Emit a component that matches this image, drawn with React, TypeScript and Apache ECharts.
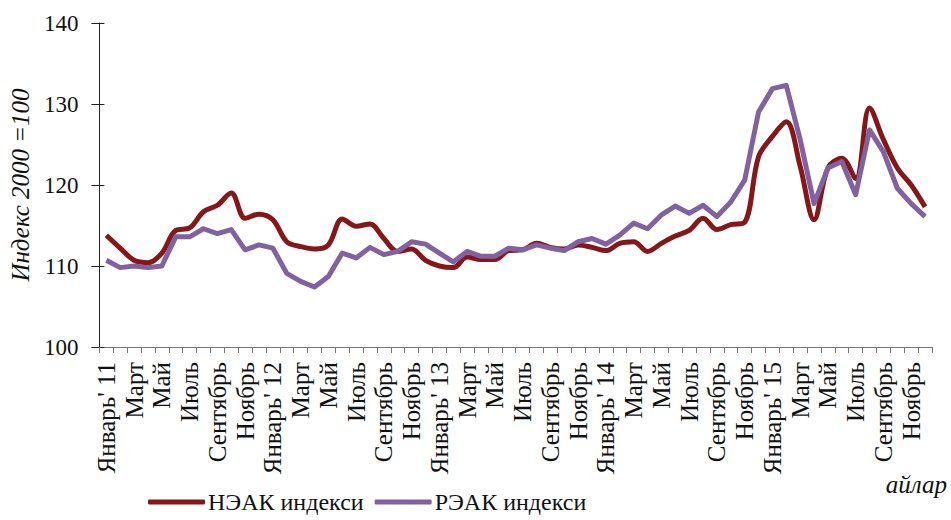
import React, { useEffect, useRef } from "react";
import * as echarts from "echarts";

const monthNames = ["Январь", "Февраль", "Март", "Апрель", "Май", "Июнь", "Июль", "Август", "Сентябрь", "Октябрь", "Ноябрь", "Декабрь"];
const years = ["11", "12", "13", "14", "15"];
const categories: string[] = [];
years.forEach((y) => monthNames.forEach((m, i) => categories.push(i === 0 ? `${m}' ${y}` : m)));

const neak = [
  113.8, 112.2, 110.7, 110.4, 111.6, 114.4, 114.7, 116.7, 117.5, 119.0, 115.9, 116.4,
  115.7, 113.0, 112.4, 112.1, 112.6, 115.8, 114.9, 115.2, 113.4, 111.8, 112.1, 110.7,
  110.0, 109.8, 111.1, 110.8, 110.8, 111.9, 112.0, 112.8, 112.3, 112.1, 112.6, 112.3,
  111.9, 112.8, 113.0, 111.8, 112.8, 113.7, 114.4, 115.9, 114.5, 115.1, 115.4, 123.5,
  126.0, 127.8, 122.3, 115.7, 122.1, 123.3, 120.8, 129.5, 125.6, 122.1, 120.0, 117.3,
];
const reak = [
  110.7, 109.8, 110.0, 109.8, 110.0, 113.6, 113.6, 114.6, 114.0, 114.5, 112.0, 112.6,
  112.2, 109.1, 108.1, 107.4, 108.7, 111.6, 111.0, 112.3, 111.4, 111.8, 113.0, 112.7,
  111.6, 110.5, 111.8, 111.2, 111.2, 112.2, 112.0, 112.6, 112.2, 111.9, 113.0, 113.4,
  112.7, 113.8, 115.3, 114.6, 116.3, 117.4, 116.5, 117.5, 116.1, 117.9, 120.6, 129.0,
  131.9, 132.3, 125.6, 117.7, 122.1, 122.9, 118.8, 126.8, 124.1, 119.6, 117.7, 116.1,
];

const seriesNames = ["НЭАК индекси", "РЭАК индекси"];
const yAxisName = "Индекс 2000 =100";
const xAxisName = "айлар";

const FONT = "Liberation Serif";
const RED = "#861719";
const PURPLE = "#8062a0";

export default function App() {
  const ref = useRef<HTMLDivElement>(null);
  useEffect(() => {
    if (!ref.current) return;
    const chart = echarts.init(ref.current, undefined, { renderer: "svg" });
    chart.setOption({
      animation: false,
      backgroundColor: "#fff",
      textStyle: { fontFamily: FONT },
      grid: { left: 95, right: 19, top: 23, bottom: 173, containLabel: false },
      legend: {
        left: 148,
        top: 490,
        padding: 0,
        itemWidth: 57,
        itemHeight: 5,
        itemGap: 11,
        icon: "roundRect",
        data: seriesNames,
        textStyle: { fontFamily: FONT, fontSize: 24, color: "#111", padding: [0, 0, 0, -2] },
      },
      graphic: [
        {
          type: "text",
          right: 4,
          top: 472,
          style: { text: xAxisName, fontFamily: FONT, fontSize: 25, fontStyle: "italic", fill: "#111" },
        },
      ],
      xAxis: {
        type: "category",
        data: categories,
        boundaryGap: true,
        axisLine: { lineStyle: { color: "#777", width: 1 } },
        axisTick: { show: true, interval: 0, length: 6, lineStyle: { color: "#777" } },
        axisLabel: {
          interval: 1,
          rotate: 90,
          margin: 15,
          fontFamily: FONT,
          fontSize: 25,
          color: "#111",
        },
        splitLine: { show: false },
      },
      yAxis: [
        {
          type: "value",
          min: 100,
          max: 140,
          interval: 10,
          name: yAxisName,
          nameLocation: "middle",
          nameRotate: 90,
          nameGap: 60,
          nameTextStyle: { fontFamily: FONT, fontSize: 25, fontStyle: "italic", color: "#111" },
          axisLine: { show: true, lineStyle: { color: "#222", width: 1 } },
          axisTick: { show: true, length: 8, lineStyle: { color: "#222" } },
          axisLabel: { margin: 21, fontFamily: FONT, fontSize: 23, color: "#111" },
          splitLine: { show: false },
        },
        {
          type: "value",
          min: 100,
          max: 140,
          interval: 10,
          position: "left",
          axisLine: { show: false },
          axisTick: { show: true, inside: true, length: 5, lineStyle: { color: "#222" } },
          axisLabel: { show: false },
          splitLine: { show: false },
        },
      ],
      series: [
        {
          name: seriesNames[0],
          type: "line",
          data: neak,
          smooth: 0.35,
          symbol: "none",
          lineStyle: { color: RED, width: 5 },
          itemStyle: { color: RED },
        },
        {
          name: seriesNames[1],
          type: "line",
          data: reak,
          smooth: false,
          symbol: "none",
          lineStyle: { color: PURPLE, width: 5, join: "round" },
          itemStyle: { color: PURPLE },
        },
      ],
    });
    return () => chart.dispose();
  }, []);
  return <div ref={ref} style={{ width: 951, height: 520, position: "absolute", left: 0, top: 0 }} />;
}
